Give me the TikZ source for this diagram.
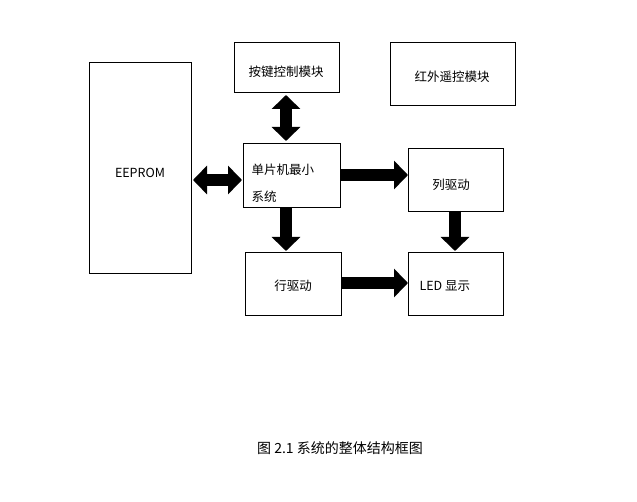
\documentclass[tikz,border=0pt]{standalone}
\usepackage{fontspec}
\setmainfont{Noto Sans CJK SC}
\usetikzlibrary{arrows.meta}
\begin{document}
\begin{tikzpicture}[x=1pt,y=-1pt,
  box/.style={draw,line width=0.6pt,inner sep=0},
  txt/.style={font=\fontsize{12.5}{14}\selectfont},
  blk/.style={line width=12pt,{Triangle[length=14pt,width=28pt]}-{Triangle[length=14pt,width=28pt]}},
  blkr/.style={line width=12pt,-{Triangle[length=14pt,width=28pt]}}]
\useasboundingbox (0,0) rectangle (637,502);
\draw[box] (89,62) rectangle (191,273);
\node[txt] (ee) at (140,173) {EEPROM};
\draw[box] (234,42) rectangle (339,92);
\node[txt] (key) at (286,72) {按键控制模块};
\draw[box] (390,42) rectangle (515,105);
\node[txt] (ir) at (452,77) {红外遥控模块};
\draw[box] (243,143) rectangle (340,207);
\node[txt,anchor=west] (mcu1) at (248,170) {单片机最小};
\node[txt,anchor=west] (mcu2) at (248,197) {系统};
\draw[box] (408,148) rectangle (503,211);
\node[txt] (col) at (451,185) {列驱动};
\draw[box] (245,252) rectangle (341,315);
\node[txt] (row) at (293,286) {行驱动};
\draw[box] (408,252) rectangle (503,315);
\node[txt,anchor=west] (led) at (416,286) {LED 显示};
\coordinate (a1) at (286,95); \coordinate (a2) at (286,141);
\draw[blk] (a1) -- (a2);
\coordinate (b1) at (193,180); \coordinate (b2) at (242,180);
\draw[blk] (b1) -- (b2);
\coordinate (c1) at (340,175); \coordinate (c2) at (408,175);
\draw[blkr] (c1) -- (c2);
\coordinate (d1) at (286,207); \coordinate (d2) at (286,251);
\draw[blkr] (d1) -- (d2);
\coordinate (e1) at (455,211); \coordinate (e2) at (455,251);
\draw[blkr] (e1) -- (e2);
\coordinate (f1) at (341,283); \coordinate (f2) at (408,283);
\draw[blkr] (f1) -- (f2);
\node[txt,font=\fontsize{14}{16}\selectfont] (cap) at (340,448) {图 2.1 系统的整体结构框图};
\end{tikzpicture}
\end{document}
